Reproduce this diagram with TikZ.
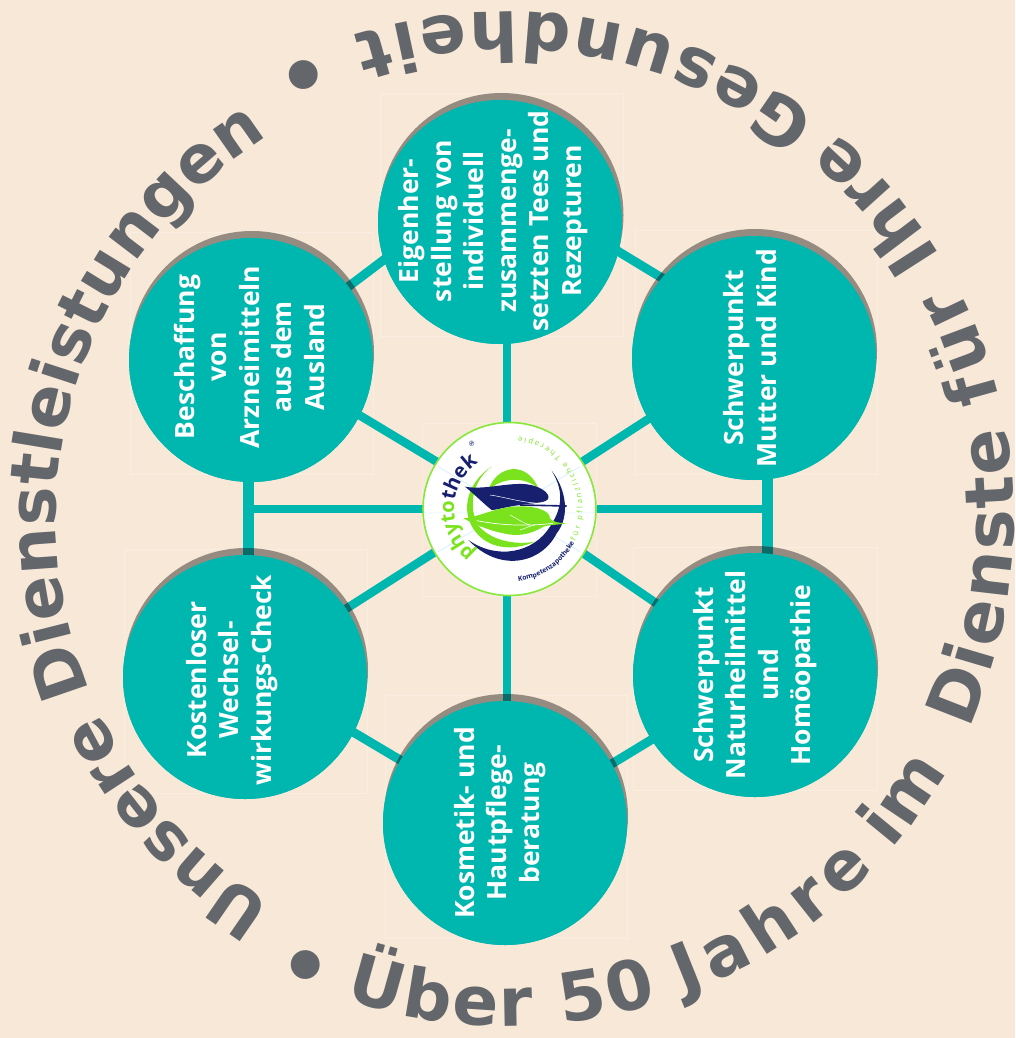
\documentclass[tikz,border=0pt]{standalone}
\usepackage{fontspec}
\setmainfont{Open Sans}
\newfontfamily\arcfamily{DejaVu Sans}
\usetikzlibrary{decorations.text}
\definecolor{bgc}{HTML}{F7E8D7}
\definecolor{teal1}{HTML}{00B7AF}
\definecolor{shade1}{HTML}{958B80}
\definecolor{dark1}{HTML}{0A6B6B}
\definecolor{txtg}{HTML}{63666B}
\definecolor{faint}{HTML}{FAEEE2}
\definecolor{leafg}{HTML}{7BE31E}
\definecolor{navy1}{HTML}{17206F}
\definecolor{rimg}{HTML}{86E83A}
\newcommand{\bigarc}{\arcfamily\bfseries\fontsize{68}{72}\selectfont\color{txtg}}
\newcommand{\innerarc}{\arcfamily\bfseries\fontsize{66}{72}\selectfont\color{txtg}}
\newcommand{\logoG}{\bfseries\fontsize{20}{22}\selectfont\color{leafg}}
\newcommand{\logoN}{\bfseries\fontsize{20}{22}\selectfont\color{navy1}}
\newcommand{\ringN}{\bfseries\fontsize{6.8}{8}\selectfont\color{navy1}}
\newcommand{\ringG}{\fontsize{7.5}{9}\selectfont\color{leafg}}
\tikzset{
  disc/.style={circle,fill=teal1,minimum size=244pt,inner sep=0pt,outer sep=0pt},
  lbl/.style={rotate=90,align=center,text=white,font=\bfseries\fontsize{26.5}{32.5}\selectfont,inner sep=0pt},
  spoke/.style={line width=8.5pt,shorten >=-8pt,shorten <=-8pt},
  ringlink/.style={line width=9pt,shorten >=-8pt,shorten <=-8pt},
  sidelink/.style={line width=11pt,shorten >=-8pt,shorten <=-8pt},
  ghost/.style={draw=faint,line width=0.8pt},
  dot/.style={anchor=base,inner sep=0pt,font=\arcfamily\bfseries\fontsize{82}{82}\selectfont,text=txtg},
}
\begin{document}
\begin{tikzpicture}[x=1pt,y=-1pt]
\useasboundingbox (0,0) rectangle (1015,1038);
\fill[bgc] (0,0) rectangle (1015,1038);
% faint frames
\draw[ghost] (380,93) rectangle (623,336);
\draw[ghost] (130,232) rectangle (373,474);
\draw[ghost] (635,230) rectangle (877,474);
\draw[ghost] (124,549) rectangle (367,793);
\draw[ghost] (633,547) rectangle (877,790);
\draw[ghost] (385,695) rectangle (627,938);
\draw[ghost] (422,423) rectangle (596,596);
\def\shadowdiscs{%
  (501.5,215) circle[radius=122]
  (755,351) circle[radius=122]
  (252,353) circle[radius=122]
  (246,670) circle[radius=122]
  (756,668) circle[radius=122]
  (506,816) circle[radius=122]}
% nodes
\node[disc] (top) at (500,222) {};
\node[disc] (ur) at (754,358) {};
\node[disc] (ul) at (251,360) {};
\node[disc] (ll) at (245,677) {};
\node[disc] (lr) at (755,675) {};
\node[disc] (bot) at (505,823) {};
\node[circle,minimum size=174pt,inner sep=0pt,outer sep=0pt] (hub) at (509.5,509) {};
\coordinate (jl) at (248,509);
\coordinate (jr) at (767,509);
\coordinate (jc) at (507,509);
\def\links{%
  \draw[spoke] (jc |- hub.north) -- (jc |- top.south);
  \draw[spoke] (jc |- hub.south) -- (jc |- bot.north);
  \draw[spoke] (hub.147) -- (ul.-27);
  \draw[spoke] (hub.33) -- (ur.210.8);
  \draw[spoke] (hub.210) -- (ll.34.6);
  \draw[spoke] (hub.-31) -- (lr.144.2);
  \draw[line width=8.5pt] (hub.west) -- (jl);
  \draw[line width=8.5pt] (hub.east) -- (jr);
  \draw[ringlink] (ul.37.8) -- (top.198);
  \draw[ringlink] (top.-14.7) -- (ur.139.7);
  \draw[ringlink] (ll.-27.6) -- (bot.149.8);
  \draw[ringlink] (lr.212) -- (bot.29);
  \draw[sidelink] (jl |- ul.south) -- (jl |- ll.north);
  \draw[sidelink] (jr |- ur.south) -- (jr |- lr.north);
}
\begin{scope}[draw=teal1,color=teal1]\links\end{scope}
\fill[shade1] \shadowdiscs;
\begin{scope}
  \clip \shadowdiscs;
  \begin{scope}[draw=dark1,color=dark1]\links\end{scope}
\end{scope}
\foreach \c in {top,ur,ul,ll,lr,bot}{\fill[teal1] (\c) circle[radius=122];}
% labels
\node[lbl] (ttop) at (493,221) {Eigenher-\\stellung von\\individuell\\zusammenge-\\setzten Tees und\\Rezepturen};
\node[lbl] (tur) at (750,358) {Schwerpunkt\\Mutter und Kind};
\node[lbl] (tul) at (249,357) {Beschaffung\\von\\Arzneimitteln\\aus dem\\Ausland};
\node[lbl] (tll) at (232,680) {Kostenloser\\Wechsel-\\wirkungs-Check};
\node[lbl] (tlr) at (755,675) {Schwerpunkt\\Naturheilmittel\\und\\Homöopathie};
\node[lbl] (tbot) at (500,823) {Kosmetik- und\\Hautpflege-\\beratung};
% hub
\fill[white] (hub) circle[radius=86];
\draw[rimg,line width=1.6pt] (hub) circle[radius=86.5];
% logo
\begin{scope}[shift={(410,410)},x=0.33333pt,y=-0.33333pt]
  \draw[cyan!25,line width=0.4pt] (40,309) -- (555,309) (85,170) -- (510,425) (85,425) -- (510,170);
  \fill[navy1] (425,182) .. controls (470,240) and (480,320) .. (440,370)
     .. controls (395,460) and (270,490) .. (175,390)
     .. controls (260,450) and (370,430) .. (420,350)
     .. controls (460,290) and (460,240) .. (425,182) -- cycle;
  \fill[leafg] (245,170) .. controls (165,220) and (145,320) .. (210,380)
     .. controls (260,425) and (330,415) .. (375,395)
     .. controls (320,405) and (240,395) .. (200,340)
     .. controls (175,280) and (190,210) .. (245,170) -- cycle;
  \fill[leafg] (235,240) .. controls (260,165) and (350,150) .. (385,235)
     .. controls (345,200) and (280,200) .. (235,240) -- cycle;
  \fill[navy1] (165,230) .. controls (220,240) and (280,220) .. (340,222)
     .. controls (390,225) and (420,250) .. (415,265)
     .. controls (410,280) and (370,278) .. (330,285)
     .. controls (290,290) and (260,300) .. (245,300)
     .. controls (220,280) and (190,250) .. (165,230) -- cycle;
  \draw[navy1,line width=1.6pt] (330,285) -- (470,288);
  \draw[white,line width=0.5pt] (240,255) .. controls (290,262) and (340,280) .. (400,280);
  \fill[leafg] (160,325) .. controls (210,320) and (250,295) .. (310,290)
     .. controls (370,285) and (420,300) .. (420,325)
     .. controls (425,335) and (450,340) .. (470,340)
     .. controls (440,345) and (415,345) .. (400,350)
     .. controls (360,375) and (320,380) .. (280,370)
     .. controls (230,360) and (190,340) .. (160,325) -- cycle;
  \draw[white,line width=0.7pt] (200,332) .. controls (270,345) and (340,350) .. (430,340);
  \draw[white,line width=0.5pt] (300,315) .. controls (320,325) and (340,340) .. (360,345)
     (330,360) .. controls (345,355) and (360,348) .. (375,345);
\end{scope}
\node[rotate=-30,inner sep=0pt,font=\fontsize{7}{8}\selectfont,text=navy1] (reg) at (471.7,443.3) {®};
% bullets
\node[dot] (dot1) at (303.5,105.5) {•};
\node[dot] (dot2) at (305.7,995) {•};
% arc texts
\begin{scope}[shift={(507,519)},y=1pt]
  \path[decorate,decoration={text along path,text align={fit to path},
     text={|\innerarc|Unsere Dienstleistungen}}]
     (238.7:451) arc[start angle=238.7,end angle=123.5,radius=451];
  \path[decorate,decoration={text along path,text align={fit to path},
     text={|\bigarc|Über 50}}]
     (251.3:507) arc[start angle=251.3,end angle=287.3,radius=507];
  \path[decorate,decoration={text along path,text align={fit to path},
     text={|\bigarc|Jahre}}]
     (290.4:507) arc[start angle=290.4,end angle=316.5,radius=507];
  \path[decorate,decoration={text along path,text align={fit to path},
     text={|\bigarc|im}}]
     (319.3:507) arc[start angle=319.3,end angle=330.2,radius=507];
  \path[decorate,decoration={text along path,text align={fit to path},
     text={|\bigarc|Dienste}}]
     (335.5:507) arc[start angle=335.5,end angle=370.5,radius=507];
  \path[decorate,decoration={text along path,text align={fit to path},
     text={|\bigarc|für}}]
     (373.8:507) arc[start angle=373.8,end angle=387.5,radius=507];
  \path[decorate,decoration={text along path,text align={fit to path},
     text={|\bigarc|Ihre}}]
     (391.2:507) arc[start angle=391.2,end angle=409.5,radius=507];
  \path[decorate,decoration={text along path,text align={fit to path},
     text={|\bigarc|Gesundheit}}]
     (412.3:507) arc[start angle=412.3,end angle=467.7,radius=507];
\end{scope}
\begin{scope}[shift={(509.5,509)},y=1pt]
  \path[decorate,decoration={text along path,text align={fit to path},
     text={|\logoG|phyto|\logoN|thek}}]
     (232:55.5) arc[start angle=232,end angle=124,radius=55.5];
  \path[decorate,decoration={text along path,text align={fit to path},
     text={|\ringN|Kompetenzapotheke}}]
     (277:73) arc[start angle=277,end angle=331,radius=73];
  \path[decorate,decoration={text along path,text align={fit to path},
     text={|\ringG|für pflanzliche Therapie}}]
     (334:73) arc[start angle=334,end angle=443,radius=73];
\end{scope}
\end{tikzpicture}
\end{document}
